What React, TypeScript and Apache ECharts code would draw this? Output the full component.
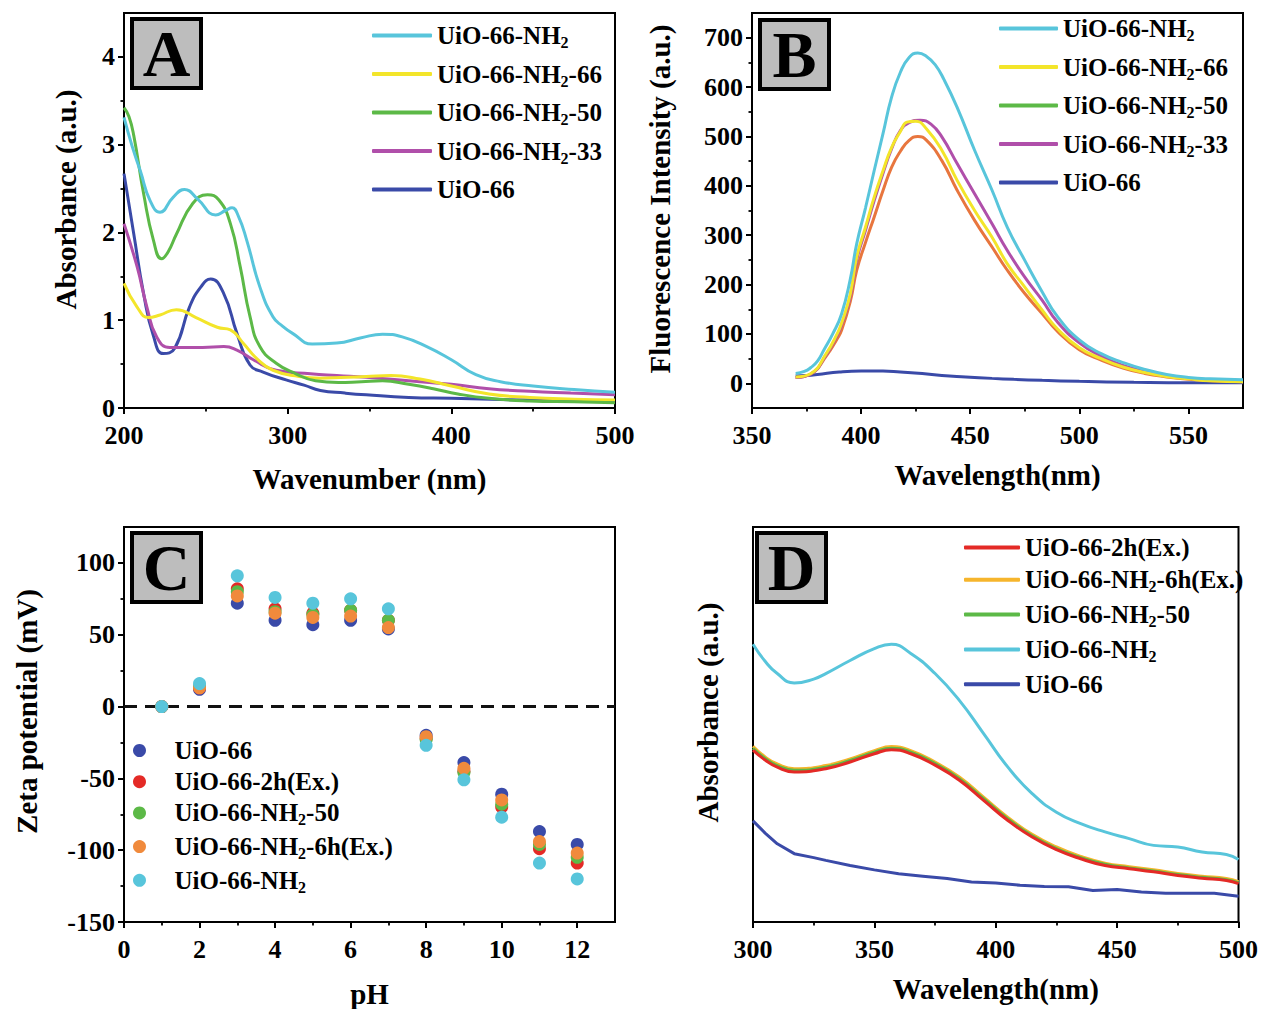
import React, { useEffect, useRef } from 'react';
import * as echarts from 'echarts';

const FONT = '"Liberation Serif", "Times New Roman", Times, serif';

// ---------- Panel A: UV-vis absorbance ----------
const A_NH2: number[][] = [[200,3.31],[205,2.98],[210,2.7],[216,2.36],[222,2.23],[230,2.4],[237,2.49],[245,2.38],[256,2.2],[262,2.25],[266,2.28],[270,2.18],[275,1.91],[283,1.38],[291,1.04],[297,0.93],[303,0.85],[315,0.73],[330,0.74],[345,0.8],[358,0.84],[370,0.81],[385,0.7],[400,0.55],[415,0.38],[430,0.3],[450,0.25],[475,0.21],[500,0.18]];
const A_NH2_66: number[][] = [[200,1.42],[208,1.15],[215,1.03],[222,1.06],[232,1.12],[244,1.03],[257,0.92],[265,0.89],[273,0.735],[281,0.565],[291,0.43],[307,0.36],[320,0.34],[348,0.36],[363,0.37],[381,0.33],[400,0.25],[423,0.16],[448,0.12],[475,0.1],[500,0.09]];
const A_NH2_50: number[][] = [[200,3.42],[203,3.32],[206,3.1],[212,2.44],[218,1.91],[223,1.7],[227,1.78],[232,1.98],[242,2.33],[251,2.43],[258,2.37],[265,2.1],[271,1.61],[277,1.04],[283,0.7],[293,0.51],[305,0.39],[317,0.31],[331,0.29],[345,0.3],[358,0.31],[374,0.27],[389,0.22],[404,0.16],[423,0.11],[448,0.08],[475,0.07],[500,0.06]];
const A_NH2_33: number[][] = [[200,2.1],[208,1.61],[214,1.15],[220,0.81],[228,0.69],[248,0.69],[261,0.7],[269,0.66],[279,0.55],[293,0.43],[314,0.39],[330,0.37],[348,0.35],[374,0.31],[400,0.27],[423,0.22],[448,0.19],[473,0.17],[500,0.15]];
const A_UIO66: number[][] = [[200,2.67],[206,1.98],[212,1.3],[218,0.82],[224,0.62],[231,0.68],[240,1.15],[247,1.38],[253,1.47],[261,1.3],[269,0.85],[277,0.49],[285,0.41],[299,0.32],[310,0.26],[320,0.2],[335,0.17],[348,0.15],[374,0.12],[400,0.11],[448,0.09],[500,0.08]];

// ---------- Panel B: fluorescence ----------
const B_NH2: number[][] = [[370,20],[374,24],[377,32],[380,45],[383,68],[387,100],[391,140],[395,210],[398,283],[402,355],[406,431],[410,505],[414,580],[418,630],[422,660],[426,669],[430,662],[434,645],[438,615],[444,559],[452,472],[460,391],[467,316],[475,249],[483,185],[490,135],[500,88],[510,60],[520,42],[530,28],[540,18],[550,12],[560,9],[575,7]];
const B_NH2_66: number[][] = [[370,13],[377,20],[384,60],[389,100],[391,121],[395,180],[398,256],[402,316],[406,377],[410,430],[414,478],[418,510],[421,529],[425,531],[430,515],[437,472],[444,411],[452,350],[460,296],[467,242],[475,195],[483,148],[490,110],[500,72],[510,50],[520,33],[530,22],[540,14],[550,9],[560,5],[575,3]];
const B_NH2_50: number[][] = [[370,12],[377,19],[384,55],[389,90],[391,107],[395,165],[398,229],[402,285],[406,337],[410,390],[414,438],[418,470],[422,492],[426,500],[430,492],[437,451],[444,391],[452,330],[460,276],[467,229],[475,182],[483,141],[490,105],[500,68],[510,47],[520,31],[530,20],[540,13],[550,8],[560,5],[575,3]];
const B_NH2_33: number[][] = [[370,12],[377,19],[384,58],[389,97],[391,118],[395,175],[398,250],[402,310],[406,370],[410,425],[414,475],[418,512],[422,528],[427,533],[432,525],[437,499],[444,445],[452,384],[460,323],[467,269],[475,215],[483,168],[490,124],[500,82],[510,55],[520,36],[530,24],[540,15],[550,10],[560,6],[575,4]];
const B_UIO66: number[][] = [[370,15],[375,16],[380,18],[390,23],[400,25],[410,25],[418,23],[428,20],[437,16],[448,13],[460,10],[470,8],[483,6],[500,4],[525,2],[550,1],[575,1]];

// ---------- Panel C: zeta potential ----------
const C_PH = [1, 2, 3, 4, 5, 6, 7, 8, 9, 10, 11, 12];
const C_UIO66 = [0, 12, 72, 60, 57, 60, 54, -20, -39, -61, -87, -96];
const C_2H = [0, 13, 82, 68, 65, 67, 60, -22, -45, -70, -99, -109];
const C_NH2_50 = [0, 14, 80, 66, 64, 67, 60, -23, -46, -68, -96, -105];
const C_NH2_6H = [0, 13, 77, 65, 62, 63, 55, -21, -43, -65, -94, -102];
const C_NH2 = [0, 16, 91, 76, 72, 75, 68, -27, -51, -77, -109, -120];

// ---------- Panel D: absorbance ----------
const D_2H: number[][] = [[300,0.435],[305,0.41],[310,0.392],[317,0.38],[330,0.388],[340,0.405],[350,0.426],[357,0.436],[365,0.426],[375,0.397],[385,0.359],[395,0.308],[405,0.257],[415,0.215],[425,0.183],[435,0.16],[445,0.143],[455,0.135],[465,0.127],[475,0.118],[485,0.111],[495,0.105],[500,0.097]];
const D_NH2_6H: number[][] = [[300,0.445],[305,0.418],[310,0.4],[317,0.388],[330,0.396],[340,0.413],[350,0.434],[357,0.444],[365,0.434],[375,0.405],[385,0.367],[395,0.316],[405,0.265],[415,0.222],[425,0.19],[435,0.166],[445,0.149],[455,0.14],[465,0.132],[475,0.123],[485,0.116],[495,0.11],[500,0.102]];
const D_NH2_50: number[][] = [[300,0.44],[305,0.414],[310,0.396],[317,0.384],[330,0.392],[340,0.409],[350,0.43],[357,0.44],[365,0.43],[375,0.401],[385,0.363],[395,0.312],[405,0.261],[415,0.218],[425,0.186],[435,0.163],[445,0.146],[455,0.137],[465,0.129],[475,0.12],[485,0.113],[495,0.107],[500,0.099]];
const D_NH2: number[][] = [[300,0.703],[305,0.66],[310,0.629],[317,0.605],[325,0.615],[330,0.629],[340,0.662],[350,0.692],[357,0.703],[365,0.68],[375,0.629],[385,0.561],[395,0.477],[405,0.392],[415,0.325],[425,0.278],[435,0.249],[445,0.228],[455,0.211],[465,0.194],[475,0.19],[485,0.177],[495,0.171],[500,0.158]];
const D_UIO66: number[][] = [[300,0.256],[305,0.225],[310,0.198],[317,0.173],[325,0.163],[330,0.156],[340,0.143],[350,0.132],[360,0.122],[370,0.116],[380,0.11],[390,0.101],[400,0.099],[410,0.093],[420,0.09],[430,0.089],[440,0.08],[450,0.082],[460,0.076],[470,0.073],[480,0.073],[490,0.073],[500,0.065]];

// ---------- names, colours, ticks ----------
const N_NH2 = 'UiO-66-NH₂';
const N_66 = 'UiO-66-NH₂-66';
const N_50 = 'UiO-66-NH₂-50';
const N_33 = 'UiO-66-NH₂-33';
const N_UIO = 'UiO-66';
const N_2H = 'UiO-66-2h(Ex.)';
const N_6H = 'UiO-66-NH₂-6h(Ex.)';

const CYAN = '#58C5DB';
const YELLOW = '#F3E52A';
const GREEN = '#5CB947';
const MAGENTA = '#B04FAA';
const BLUE = '#3A4AA8';
const RED = '#E42A26';
const ORANGE_B = '#E8763E';
const ORANGE_C = '#F08A3C';
const GOLD_D = '#F6B52C';

const A_X_MAJOR = [200, 300, 400, 500];
const A_X_MINOR = [250, 350, 450];
const A_Y_MAJOR = [0, 1, 2, 3, 4];
const A_Y_MINOR = [0.5, 1.5, 2.5, 3.5];
const B_X_MAJOR = [350, 400, 450, 500, 550];
const B_X_MINOR = [375, 425, 475, 525];
const B_Y_MAJOR = [0, 100, 200, 300, 400, 500, 600, 700];
const B_Y_MINOR = [50, 150, 250, 350, 450, 550, 650];
const C_X_MAJOR = [0, 2, 4, 6, 8, 10, 12];
const C_X_MINOR = [1, 3, 5, 7, 9, 11];
const C_Y_MAJOR = [-150, -100, -50, 0, 50, 100];
const C_Y_MINOR = [-125, -75, -25, 25, 75];
const D_X_MAJOR = [300, 350, 400, 450, 500];
const D_X_MINOR = [325, 375, 425, 475];

const titleFont = { fontFamily: FONT, fontWeight: 'bold', fontSize: 29, color: '#000' };
const tickFont = { fontFamily: FONT, fontWeight: 'bold', fontSize: 26, color: '#000' };

function majorAxis(gridIndex: number, min: number, max: number, ticks: number[], name: string, nameGap: number, pad: number, pos: string) {
  const isX = pos === 'bottom';
  return {
    type: 'value', gridIndex, min, max, position: pos,
    name, nameLocation: 'middle', nameGap,
    nameTextStyle: { ...titleFont, padding: [0, 0, 0, pad] },
    axisLine: { show: true, onZero: false, lineStyle: { color: '#000', width: 2 } },
    axisTick: { show: ticks.length > 0, inside: false, length: 6, lineStyle: { color: '#000', width: 2 }, customValues: ticks },
    axisLabel: { show: ticks.length > 0, customValues: ticks, margin: isX ? 17 : 9, lineHeight: 20, ...tickFont },
    splitLine: { show: false },
    minorTick: { show: false },
  };
}
function minorAxis(gridIndex: number, min: number, max: number, ticks: number[], pos: string) {
  return {
    type: 'value', gridIndex, min, max, position: pos,
    axisLine: { show: false, onZero: false },
    axisTick: { show: true, inside: false, length: 3.5, lineStyle: { color: '#000', width: 1.8 }, customValues: ticks },
    axisLabel: { show: false },
    splitLine: { show: false },
  };
}

function lineSeries(name: string, data: number[][], color: string, axis: number, smooth: number | boolean = 0.5) {
  return {
    type: 'line', name, data, xAxisIndex: axis, yAxisIndex: axis,
    showSymbol: false, symbol: 'none', smooth,
    lineStyle: { color, width: 3 }, itemStyle: { color }, z: 3,
  };
}
function scatterSeries(name: string, vals: number[], color: string) {
  return {
    type: 'scatter', name, data: C_PH.map((p, i) => [p, vals[i]]),
    xAxisIndex: 2, yAxisIndex: 2, symbol: 'circle', symbolSize: 13,
    itemStyle: { color, opacity: 1 }, z: 4,
  };
}

const fmt = (name: string) => name.split('₂').map((p) => (p ? `{m|${p}}` : '')).join('{s|2}');
const legendText = (lh: number) => ({
  fontFamily: FONT, fontWeight: 'bold', fontSize: 25, color: '#000',
  rich: {
    m: { fontFamily: FONT, fontWeight: 'bold', fontSize: 25, color: '#000', lineHeight: lh },
    s: { fontFamily: FONT, fontWeight: 'bold', fontSize: 16, color: '#000', lineHeight: lh - 18, verticalAlign: 'bottom' },
  },
});
function legend(left: number, top: number, gap: number, names: string[], colors: string[], icon: string, w: number, h: number) {
  return {
    orient: 'vertical', left, top, padding: 0, itemGap: gap, selectedMode: false,
    icon, itemWidth: w, itemHeight: h,
    itemStyle: { borderWidth: 0 },
    textStyle: legendText(30),
    formatter: fmt,
    data: names.map((n, i) => ({ name: n, icon, itemStyle: { color: colors[i], borderWidth: 0 } })),
  };
}

function panelLabel(x: number, y: number, letter: string) {
  return {
    type: 'group', children: [
      { type: 'rect', shape: { x, y, width: 69, height: 69 }, style: { fill: '#BDBDBD', stroke: '#000', lineWidth: 4 } },
      { type: 'text', x: x + 34.5, y: y + 34, style: { text: letter, fontFamily: FONT, fontWeight: 'bold', fontSize: 66, fill: '#000', align: 'center', verticalAlign: 'middle' } },
    ],
  };
}

const gridBox = { show: true, borderColor: '#000', borderWidth: 2, backgroundColor: 'transparent' };

const option: any = {
  animation: false,
  backgroundColor: '#fff',
  grid: [
    { ...gridBox, left: 124, top: 13, width: 491, height: 395 },
    { ...gridBox, left: 752, top: 13, width: 491, height: 395 },
    { ...gridBox, left: 124, top: 527, width: 491, height: 396 },
    { ...gridBox, left: 753, top: 527, width: 491, height: 395 },
  ],
  xAxis: [
    majorAxis(0, 200, 500, A_X_MAJOR, 'Wavenumber (nm)', 56, 0, 'bottom'),
    majorAxis(1, 350, 575, B_X_MAJOR, 'Wavelength(nm)', 52, 0, 'bottom'),
    majorAxis(2, 0, 13, C_X_MAJOR, 'pH', 57, 0, 'bottom'),
    majorAxis(3, 300, 500, D_X_MAJOR, 'Wavelength(nm)', 52, 0, 'bottom'),
    minorAxis(0, 200, 500, A_X_MINOR, 'bottom'),
    minorAxis(1, 350, 575, B_X_MINOR, 'bottom'),
    minorAxis(2, 0, 13, C_X_MINOR, 'bottom'),
    minorAxis(3, 300, 500, D_X_MINOR, 'bottom'),
  ],
  yAxis: [
    majorAxis(0, 0, 4.5, A_Y_MAJOR, 'Absorbance (a.u.)', 44, 22, 'left'),
    majorAxis(1, -50, 750, B_Y_MAJOR, 'Fluorescence Intensity (a.u.)', 78, 23, 'left'),
    majorAxis(2, -150, 125, C_Y_MAJOR, 'Zeta potential (mV)', 83, 26, 'left'),
    majorAxis(3, 0, 1, [], 'Absorbance (a.u.)', 31, 24, 'left'),
    minorAxis(0, 0, 4.5, A_Y_MINOR, 'left'),
    minorAxis(1, -50, 750, B_Y_MINOR, 'left'),
    minorAxis(2, -150, 125, C_Y_MINOR, 'left'),
  ],
  legend: [
    legend(372, 23, 11, [N_NH2, N_66, N_50, N_33, N_UIO], [CYAN, YELLOW, GREEN, MAGENTA, BLUE], 'roundRect', 60, 4),
    legend(999, 16, 11, [N_NH2, N_66, N_50, N_33, N_UIO], [CYAN, YELLOW, GREEN, MAGENTA, BLUE], 'roundRect', 59, 4),
    legend(133, 738, 6.2, [N_UIO, N_2H, N_50, N_6H, N_NH2], [BLUE, RED, GREEN, ORANGE_C, CYAN], 'circle', 60, 13),
    legend(964, 535, 7.3, [N_2H, N_6H, N_50, N_NH2, N_UIO], [RED, GOLD_D, GREEN, CYAN, BLUE], 'roundRect', 56, 4),
  ],
  graphic: [
    panelLabel(132, 19, 'A'),
    panelLabel(760, 20, 'B'),
    panelLabel(132, 533, 'C'),
    panelLabel(757, 533, 'D'),
  ],
  series: [
    // A
    lineSeries(N_UIO, A_UIO66, BLUE, 0),
    lineSeries(N_33, A_NH2_33, MAGENTA, 0),
    lineSeries(N_66, A_NH2_66, YELLOW, 0),
    lineSeries(N_50, A_NH2_50, GREEN, 0),
    lineSeries(N_NH2, A_NH2, CYAN, 0),
    // B
    lineSeries(N_UIO, B_UIO66, BLUE, 1),
    lineSeries(N_50, B_NH2_50, ORANGE_B, 1),
    lineSeries(N_33, B_NH2_33, MAGENTA, 1),
    lineSeries(N_66, B_NH2_66, YELLOW, 1),
    lineSeries(N_NH2, B_NH2, CYAN, 1),
    // C
    {
      type: 'line', name: 'zero', data: [[0, 0], [13, 0]], xAxisIndex: 2, yAxisIndex: 2,
      showSymbol: false, symbol: 'none', lineStyle: { color: '#111', width: 3, type: [13, 8] }, z: 2,
    },
    scatterSeries(N_UIO, C_UIO66, BLUE),
    scatterSeries(N_2H, C_2H, RED),
    scatterSeries(N_50, C_NH2_50, GREEN),
    scatterSeries(N_6H, C_NH2_6H, ORANGE_C),
    scatterSeries(N_NH2, C_NH2, CYAN),
    // D
    lineSeries(N_UIO, D_UIO66, BLUE, 3, false),
    lineSeries(N_NH2, D_NH2, CYAN, 3),
    lineSeries(N_6H, D_NH2_6H, GOLD_D, 3),
    lineSeries(N_50, D_NH2_50, GREEN, 3),
    lineSeries(N_2H, D_2H, RED, 3),
  ],
};

export default function App() {
  const ref = useRef<HTMLDivElement>(null);
  useEffect(() => {
    const chart = echarts.init(ref.current as HTMLDivElement, null, { renderer: 'svg' });
    chart.setOption(option);
    return () => chart.dispose();
  }, []);
  return (
    <div
      ref={ref}
      style={{ position: 'fixed', left: 0, top: 0, width: 1261, height: 1009, background: '#fff' }}
    />
  );
}
